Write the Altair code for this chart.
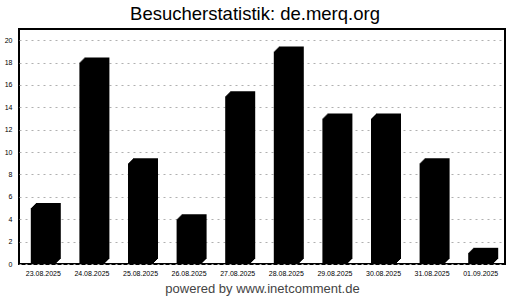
import altair as alt
import pandas as pd

# Daily visitor counts
days = ["23.08.2025", "24.08.2025", "25.08.2025", "26.08.2025", "27.08.2025",
        "28.08.2025", "29.08.2025", "30.08.2025", "31.08.2025", "01.09.2025"]
visits = [5, 18, 9, 4, 15, 19, 13, 13, 9, 1]
y_ticks = list(range(0, 21, 2))

df = pd.DataFrame({"Tag": days, "Besucher": visits})

FONT = "Liberation Sans"
DEPTH = 5  # pixel depth of the pseudo-3D bar body

x_enc = alt.X(
    "Tag:N",
    sort=None,
    scale=alt.Scale(paddingInner=0.0, paddingOuter=0.0),
    axis=alt.Axis(
        title="powered by www.inetcomment.de",
        titleFont=FONT, titleFontSize=13, titleFontWeight="normal",
        titleColor="#444444", titlePadding=6,
        labelFont=FONT, labelFontSize=7, labelColor="black",
        labelAngle=0, labelPadding=5,
        ticks=False, domain=False, grid=False,
    ),
)
y_enc = alt.Y(
    "Besucher:Q",
    scale=alt.Scale(domain=[0, 21], nice=False),
    axis=alt.Axis(
        title=None, values=y_ticks,
        labelFont=FONT, labelFontSize=7, labelColor="black", labelPadding=7,
        ticks=False, domain=False,
        grid=True, gridColor="#b0b0b0", gridDash=[2, 4], gridWidth=1,
    ),
)

base = alt.Chart(df)
# Stack slightly shifted copies of each bar to build the slanted 3D body
layers = [
    base.mark_bar(color="black", width=25, strokeWidth=0,
                  xOffset=k, x2Offset=k, yOffset=-k, y2Offset=-k)
    .encode(x=x_enc, y=y_enc)
    for k in range(DEPTH, -1, -1)
]

chart = (
    alt.layer(*layers)
    .properties(
        width=486, height=235,
        padding={"left": 19, "top": 29, "right": 15, "bottom": 36},
        autosize="none",
        background="white",
        title=alt.TitleParams(
            "Besucherstatistik: de.merq.org",
            font=FONT, fontSize=18.5, fontWeight="normal", color="black",
            anchor="middle", offset=6, dx=-7,
        ),
    )
    .configure_view(stroke="black", strokeWidth=2)
)

chart.save("out.html", embed_options={"renderer": "svg", "actions": False})
